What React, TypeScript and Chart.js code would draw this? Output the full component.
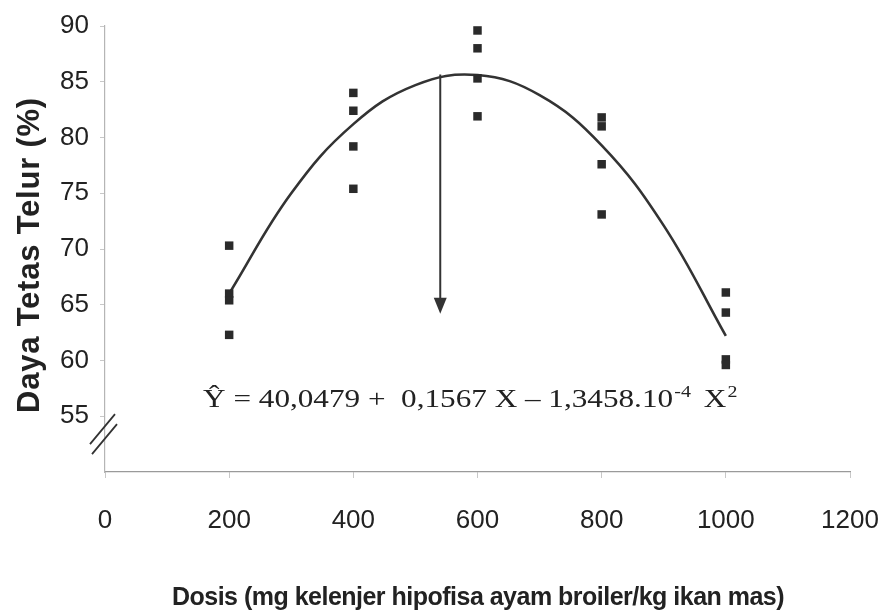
import React, { useEffect, useRef } from 'react';
import { Chart, registerables } from 'chart.js';

Chart.register(...registerables);

// ---------- data ----------
const doseLevels = [200, 400, 600, 800, 1000];
const hatch200 = [70.3, 66.0, 65.4, 62.3];
const hatch400 = [84.0, 82.4, 79.2, 75.4];
const hatch600 = [89.6, 88.0, 85.3, 81.9];
const hatch800 = [81.8, 81.0, 77.6, 73.1];
const hatch1000 = [66.1, 64.3, 60.1, 59.6];
const observedByDose = [hatch200, hatch400, hatch600, hatch800, hatch1000];

const fitDose = [200, 300, 400, 500, 600, 700, 800, 900, 1000];
const fitHatch = [66.0, 75.0, 81.2, 84.7, 85.6, 83.8, 79.3, 72.1, 62.2];

const xTickValues = [0, 200, 400, 600, 800, 1000, 1200];
const yTickLabels = [55, 60, 65, 70, 75, 80, 85, 90];
const xMin = 0;
const xMax = 1200;
const yMin = 50;
const yMax = 90;

const arrowDose = 540;
const arrowFrom = 85.65;
const arrowTo = 64.2;

const eqDose = 158;
const eqEndDose = 915;
const eqLevel = 55.8;
const eqMain = 'Ŷ = 40,0479 +  0,1567 X – 1,3458.10';
const eqSup1 = '-4';
const eqMain2 = ' X';
const eqSup2 = '2';

const yTitle = 'Daya Tetas Telur (%)';
const xTitle = 'Dosis (mg kelenjer hipofisa ayam broiler/kg ikan mas)';

const TEXT = '#222';

function drawFitted(ctx: CanvasRenderingContext2D, text: string, cx: number, cy: number, target: number) {
  ctx.save();
  (ctx as any).letterSpacing = '0px';
  const w0 = ctx.measureText(text).width;
  const n = Array.from(text).length;
  const ls = (target - w0) / n;
  (ctx as any).letterSpacing = ls.toFixed(2) + 'px';
  const w1 = ctx.measureText(text).width;
  let sx = 1;
  if (Math.abs(w1 - target) > 2) sx = target / w1;
  ctx.translate(cx, cy);
  ctx.scale(sx, 1);
  ctx.textAlign = 'left';
  ctx.fillText(text, -w1 / 2, 0);
  ctx.restore();
}

const annotationPlugin = {
  id: 'annotations',
  afterDatasetsDraw(chart: any) {
    const { ctx, scales, chartArea } = chart;
    const x = scales.x;
    const y = scales.y;

    // arrow
    const ax = x.getPixelForValue(arrowDose);
    const ay1 = y.getPixelForValue(arrowFrom);
    const ay2 = y.getPixelForValue(arrowTo);
    ctx.save();
    ctx.strokeStyle = '#333';
    ctx.fillStyle = '#333';
    ctx.lineWidth = 2;
    ctx.beginPath();
    ctx.moveTo(ax, ay1);
    ctx.lineTo(ax, ay2 - 12);
    ctx.stroke();
    ctx.beginPath();
    ctx.moveTo(ax - 6.5, ay2 - 16);
    ctx.lineTo(ax + 6.5, ay2 - 16);
    ctx.lineTo(ax, ay2);
    ctx.closePath();
    ctx.fill();
    ctx.restore();

    // axis break mark
    const bx = chartArea.left;
    const by = y.getPixelForValue(53.4);
    ctx.save();
    ctx.strokeStyle = '#333';
    ctx.lineWidth = 1.8;
    ctx.beginPath();
    ctx.moveTo(bx - 15, by + 10);
    ctx.lineTo(bx + 10, by - 20);
    ctx.moveTo(bx - 13, by + 20);
    ctx.lineTo(bx + 12, by - 10);
    ctx.stroke();
    ctx.restore();

    // equation
    const x0 = x.getPixelForValue(eqDose);
    const x1 = x.getPixelForValue(eqEndDose);
    const yb = y.getPixelForValue(eqLevel);
    ctx.save();
    ctx.fillStyle = TEXT;
    ctx.textBaseline = 'alphabetic';
    ctx.textAlign = 'left';
    const bigFont = '25px "Liberation Serif", "Times New Roman", serif';
    const smallFont = '16px "Liberation Serif", "Times New Roman", serif';
    ctx.font = bigFont;
    const mainW = ctx.measureText(eqMain).width;
    const sx = (x1 - x0) / mainW;
    ctx.translate(x0, yb);
    ctx.scale(sx, 1);
    ctx.fillText(eqMain, 0, 0);
    let cx = mainW + 1;
    ctx.font = smallFont;
    ctx.fillText(eqSup1, cx, -10);
    cx += ctx.measureText(eqSup1).width + 4;
    ctx.font = bigFont;
    ctx.fillText(eqMain2, cx, 0);
    cx += ctx.measureText(eqMain2).width + 1;
    ctx.font = smallFont;
    ctx.fillText(eqSup2, cx, -10);
    ctx.restore();

    // axis titles
    ctx.save();
    ctx.fillStyle = TEXT;
    ctx.textBaseline = 'alphabetic';
    ctx.font = 'bold 25px "Liberation Sans", Arial, sans-serif';
    drawFitted(ctx, xTitle, 478, 605, 612);
    ctx.restore();

    ctx.save();
    ctx.fillStyle = TEXT;
    ctx.textBaseline = 'alphabetic';
    ctx.font = 'bold 31px "Liberation Sans", Arial, sans-serif';
    ctx.translate(39, 255);
    ctx.rotate(-Math.PI / 2);
    drawFitted(ctx, yTitle, 0, 0, 316);
    ctx.restore();
  },
};

export default function App() {
  const ref = useRef<HTMLCanvasElement | null>(null);

  useEffect(() => {
    document.body.style.margin = '0';
    const canvas = ref.current;
    if (!canvas) return;

    const observed: { x: number; y: number }[] = [];
    doseLevels.forEach((d, i) => {
      observedByDose[i].forEach((v) => observed.push({ x: d, y: v }));
    });
    const fit = fitDose.map((d, i) => ({ x: d, y: fitHatch[i] }));

    const chart = new Chart(canvas, {
      type: 'scatter',
      data: {
        datasets: [
          {
            label: 'Observasi',
            data: observed,
            pointStyle: 'rect',
            pointRadius: 6,
            backgroundColor: '#2a2a2a',
            borderWidth: 0,
            showLine: false,
          },
          {
            label: 'Regresi',
            data: fit,
            showLine: true,
            pointRadius: 0,
            borderColor: '#333',
            borderWidth: 2.6,
            tension: 0.4,
            fill: false,
          },
        ],
      },
      options: {
        responsive: false,
        animation: false,
        devicePixelRatio: 1,
        layout: { padding: { top: 26, right: 29, left: 0, bottom: 0 } },
        plugins: {
          legend: { display: false },
          tooltip: { enabled: false },
          title: { display: false },
        },
        scales: {
          x: {
            type: 'linear',
            min: xMin,
            max: xMax,
            afterFit: (s: any) => {
              s.height = 140;
              s.paddingLeft = 0;
              s.paddingRight = 0;
            },
            afterBuildTicks: (s: any) => {
              s.ticks = xTickValues.map((v) => ({ value: v }));
            },
            ticks: {
              padding: 27,
              color: TEXT,
              font: { family: '"Liberation Sans", Arial, sans-serif', size: 26 },
              maxRotation: 0,
              callback: (v: any) => String(v),
            },
            grid: {
              drawOnChartArea: false,
              drawTicks: true,
              tickLength: 6,
              color: '#c8c8c8',
            },
            border: { display: true, color: '#9a9a9a', width: 1.2 },
            title: { display: false },
          },
          y: {
            type: 'linear',
            min: yMin,
            max: yMax,
            afterFit: (s: any) => {
              s.width = 105;
              s.paddingTop = 0;
              s.paddingBottom = 0;
            },
            ticks: {
              stepSize: 5,
              padding: 11,
              color: TEXT,
              font: { family: '"Liberation Sans", Arial, sans-serif', size: 26 },
              callback: (v: any) => (yTickLabels.includes(Number(v)) ? String(v) : ''),
            },
            grid: {
              drawOnChartArea: false,
              drawTicks: true,
              tickLength: 5,
              color: (c: any) => (c.tick && c.tick.value === yMin ? 'rgba(0,0,0,0)' : '#c8c8c8'),
            },
            border: { display: true, color: '#b5b5b5', width: 1.2 },
            title: { display: false },
          },
        },
      },
      plugins: [annotationPlugin],
    });

    return () => chart.destroy();
  }, []);

  return (
    <div style={{ position: 'absolute', left: 0, top: 0, width: 879, height: 612, background: '#fff' }}>
      <canvas ref={ref} width={879} height={612} style={{ display: 'block', width: 879, height: 612 }} />
    </div>
  );
}
